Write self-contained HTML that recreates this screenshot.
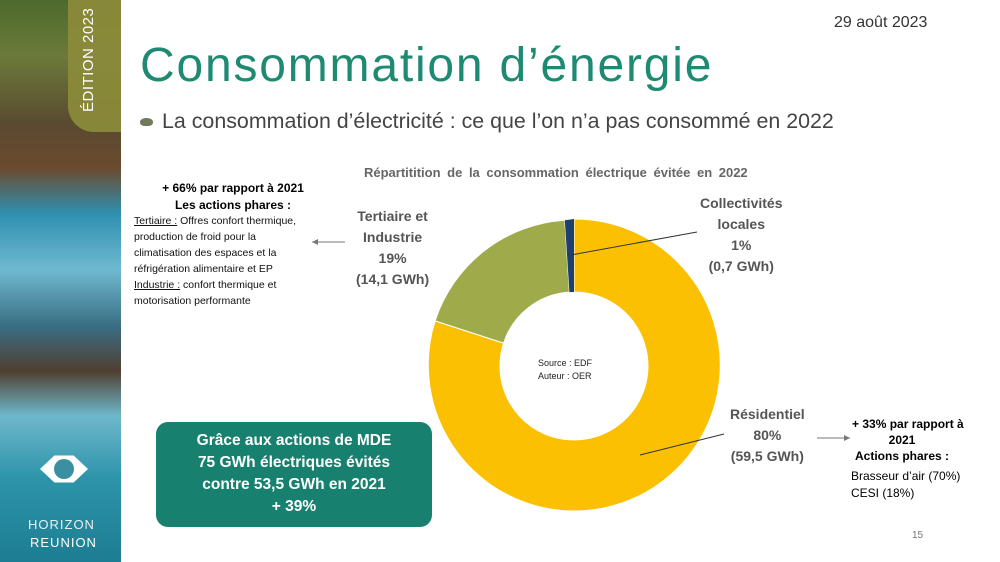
<!DOCTYPE html>
<html><head><meta charset="utf-8"><style>
body{margin:0;width:1000px;height:562px;overflow:hidden;background:#fff;font-family:"Liberation Sans",sans-serif;position:relative}
.a{position:absolute;white-space:nowrap}
.strip{position:absolute;left:0;top:0;width:121px;height:562px;background:linear-gradient(180deg,#4d6a2c 0%,#6b7a3a 10%,#5a4a30 22%,#6a4b2f 30%,#2f8fb0 38%,#6fb9d0 48%,#3a6e84 58%,#4f3f30 66%,#6fb8cc 74%,#2d94aa 85%,#1d7d92 100%)}
.c{font-size:11px;color:#111;line-height:16px}
</style></head><body>
<div class="strip"></div>
<div style="position:absolute;left:68px;top:0;width:53px;height:132px;background:#8a8a3a;border-bottom-left-radius:26px;opacity:.95"></div>
<div class="a" style="left:80px;top:112px;transform:rotate(-90deg);transform-origin:0 0;color:#fff;font-size:15px;letter-spacing:0.5px">ÉDITION 2023</div>
<div style="position:absolute;left:40px;top:454px;width:48px;height:30px;background:#fff;border-radius:50%/50%;clip-path:polygon(0 50%,30% 5%,70% 5%,100% 50%,70% 95%,30% 95%)"></div>
<div style="position:absolute;left:54px;top:459px;width:20px;height:20px;border-radius:50%;background:#3a8fa0"></div>
<div class="a" style="left:28px;top:517px;color:#e8f0f0;font-size:13px;letter-spacing:1px">HORIZON</div>
<div class="a" style="left:30px;top:535px;color:#fff;font-size:13px;letter-spacing:1px">REUNION</div>

<div class="a" style="left:834px;top:14px;font-size:16px;color:#333">29 août 2023</div>
<div class="a" style="left:140px;top:38px;font-size:48px;color:#1e8a72;letter-spacing:1.8px">Consommation d’énergie</div>
<div style="position:absolute;left:140px;top:118px;width:13px;height:8px;background:#6f7a5a;border-radius:50% 50% 40% 40%"></div>
<div class="a" style="left:162px;top:109px;font-size:21.4px;color:#444">La consommation d’électricité : ce que l’on n’a pas consommé en 2022</div>
<div class="a" style="left:364px;top:165px;font-size:13px;color:#666;font-weight:bold;word-spacing:3px">Répartitition de la consommation électrique évitée en 2022</div>

<svg style="position:absolute;left:0;top:0" width="1000" height="562">
<path d="M574 219 A146 146 0 1 1 435.1 320.9 L503.6 343.1 A74 74 0 1 0 574 292Z" fill="#fbc002" stroke="#fff" stroke-width="1"/>
<path d="M435.1 320.9 A146 146 0 0 1 564.8 220.3 L569.4 292.1 A74 74 0 0 0 503.6 343.1Z" fill="#9fab4a" stroke="#fff" stroke-width="1"/>
<path d="M564.8 220.3 A146 146 0 0 1 574 219 L574 292 A74 74 0 0 0 569.4 292.1Z" fill="#1f3f6e"/>
<line x1="571" y1="255" x2="697" y2="232" stroke="#333" stroke-width="1"/>
<line x1="640" y1="455" x2="724" y2="434" stroke="#333" stroke-width="1"/>
<line x1="345" y1="242" x2="312" y2="242" stroke="#777"/><path d="M312 242 l6 -3 v6z" fill="#777"/>
<line x1="817" y1="438" x2="850" y2="438" stroke="#777"/><path d="M850 438 l-6 -3 v6z" fill="#777"/>
</svg>
<div class="a" style="left:538px;top:357px;font-size:9px;color:#222;line-height:13px">Source : EDF<br>Auteur : OER</div>

<div class="a" style="left:356px;top:206px;font-size:14px;font-weight:bold;color:#555;text-align:center;line-height:21px">Tertiaire et<br>Industrie<br>19%<br>(14,1 GWh)</div>
<div class="a" style="left:700px;top:193px;font-size:14px;font-weight:bold;color:#555;text-align:center;line-height:21px">Collectivités<br>locales<br>1%<br>(0,7 GWh)</div>
<div class="a" style="left:730px;top:404px;font-size:14px;font-weight:bold;color:#555;text-align:center;line-height:21px">Résidentiel<br>80%<br>(59,5 GWh)</div>

<div class="a" style="left:133px;top:180px;width:200px;text-align:center;font-size:12px;font-weight:bold;line-height:17px">+ 66% par rapport à 2021<br>Les actions phares :</div>
<div class="a c" style="left:134px;top:213px;font-size:10.5px"><u>Tertiaire :</u> Offres confort thermique,<br>production de froid pour la<br>climatisation des espaces et la<br>réfrigération alimentaire et EP<br><u>Industrie :</u> confort thermique et<br>motorisation performante</div>

<div class="a" style="left:852px;top:416px;width:100px;text-align:center;font-size:12px;font-weight:bold;line-height:16px">+ 33% par rapport à<br>2021<br>Actions phares :</div>
<div class="a" style="left:851px;top:468px;font-size:12px;line-height:17px">Brasseur d’air (70%)<br>CESI (18%)</div>

<div style="position:absolute;left:156px;top:422px;width:276px;height:105px;background:#18806e;border-radius:12px;color:#fff;font-weight:bold;font-size:15.5px;text-align:center;line-height:22px;padding-top:8px;box-sizing:border-box">Grâce aux actions de MDE<br>75 GWh électriques évités<br>contre 53,5 GWh en 2021<br>+ 39%</div>
<div class="a" style="left:912px;top:530px;font-size:10px;color:#777">15</div>
</body></html>
